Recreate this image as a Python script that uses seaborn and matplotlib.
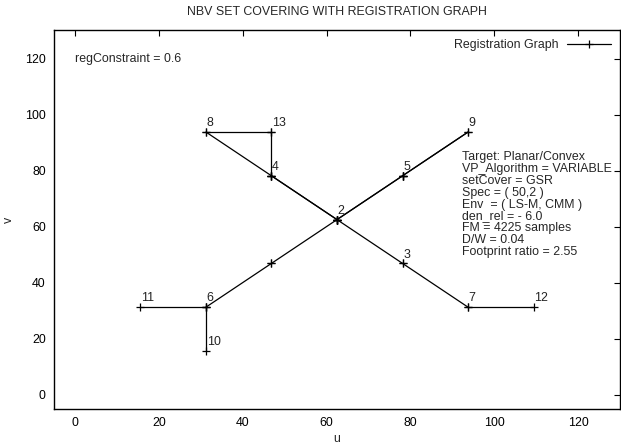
import matplotlib
matplotlib.use("Agg")
import matplotlib.pyplot as plt
import pandas as pd
import seaborn as sns
from matplotlib.lines import Line2D

# Node ids, labels and positions of the registration graph (u, v)
node_ids = ["1", "2", "3", "4", "5", "6", "7", "8", "9", "10", "11", "12", "13"]
node_labels = ["", "2", "3", "4", "5", "6", "7", "8", "9", "10", "11", "12", "13"]
node_u = [46.875, 62.5, 78.125, 46.875, 78.125, 31.25, 93.75, 31.25, 93.75, 31.25, 15.625, 109.375, 46.875]
node_v = [46.875, 62.5, 46.875, 78.125, 78.125, 31.25, 31.25, 93.75, 93.75, 15.625, 31.25, 31.25, 93.75]

# Graph edges (repeated edges are traversed more than once)
edge_from = ["8", "13", "8", "4", "4", "2", "2", "5", "5", "2", "3", "7", "2", "1", "6", "6"]
edge_to = ["13", "4", "4", "2", "2", "5", "5", "9", "9", "3", "7", "12", "1", "6", "11", "10"]

info_lines = [
    "Target: Planar/Convex",
    "VP_Algorithm = VARIABLE",
    "setCover = GSR",
    "Spec = ( 50,2 )",
    "Env  = ( LS-M, CMM )",
    "den_rel = - 6.0",
    "FM = 4225 samples",
    "D/W = 0.04",
    "Footprint ratio = 2.55",
]
reg_constraint_text = "regConstraint = 0.6"
ticks = [0, 20, 40, 60, 80, 100, 120]

sns.set_theme(style="white")
plt.rcParams["font.family"] = ["Liberation Sans", "DejaVu Sans"]
FS = 8.9

pos = {n: (x, y) for n, x, y in zip(node_ids, node_u, node_v)}
rows = []
for k, (a, b) in enumerate(zip(edge_from, edge_to)):
    for n in (a, b):
        rows.append({"edge": k, "u": pos[n][0], "v": pos[n][1]})
edges_df = pd.DataFrame(rows)

fig = plt.figure(figsize=(6.21, 4.44), dpi=100)
ax = fig.add_axes([54 / 621, 1 - 408.7 / 444, (620 - 54) / 621, (408.7 - 30.5) / 444])

sns.lineplot(data=edges_df, x="u", y="v", units="edge", estimator=None, sort=False,
             color="black", linewidth=0.9, marker="+", markersize=6,
             markeredgewidth=0.9, markeredgecolor="black", ax=ax, legend=False)

for lab, x, y in zip(node_labels, node_u, node_v):
    if lab:
        ax.annotate(lab, (x, y), xytext=(0.5, 2.0), textcoords="offset points",
                    ha="left", va="bottom", fontsize=FS, color="#222222")

ax.text(0, 120, reg_constraint_text, ha="left", va="center", fontsize=FS)
ax.text(92.2, 86.9, "\n".join(info_lines), ha="left", va="top", fontsize=FS,
        linespacing=0.98)

ax.set_xlim(-5, 130)
ax.set_ylim(-5, 130)
ax.set_xticks(ticks)
ax.set_yticks(ticks)
ax.tick_params(direction="in", length=4, width=0.8, top=True, right=True,
               labelsize=FS, pad=6, colors="black")
for s in ax.spines.values():
    s.set_visible(True)
    s.set_color("black")
    s.set_linewidth(1.0)

ax.set_xlabel("u", fontsize=FS, labelpad=3)
ax.set_ylabel("v", fontsize=FS, labelpad=7)

handle = Line2D([], [], color="black", linewidth=0.9, marker="+", markersize=6,
                markeredgewidth=0.9)
ax.legend([handle], ["Registration Graph"], loc="upper right", frameon=False,
          markerfirst=False, fontsize=FS, handlelength=3.6, handletextpad=0.7,
          borderaxespad=0.3)

fig.text((54 + 620) / 2 / 621, 1 - 12 / 444, "NBV SET COVERING WITH REGISTRATION GRAPH",
         ha="center", va="center", fontsize=FS)

fig.savefig("out.png", dpi=100)
